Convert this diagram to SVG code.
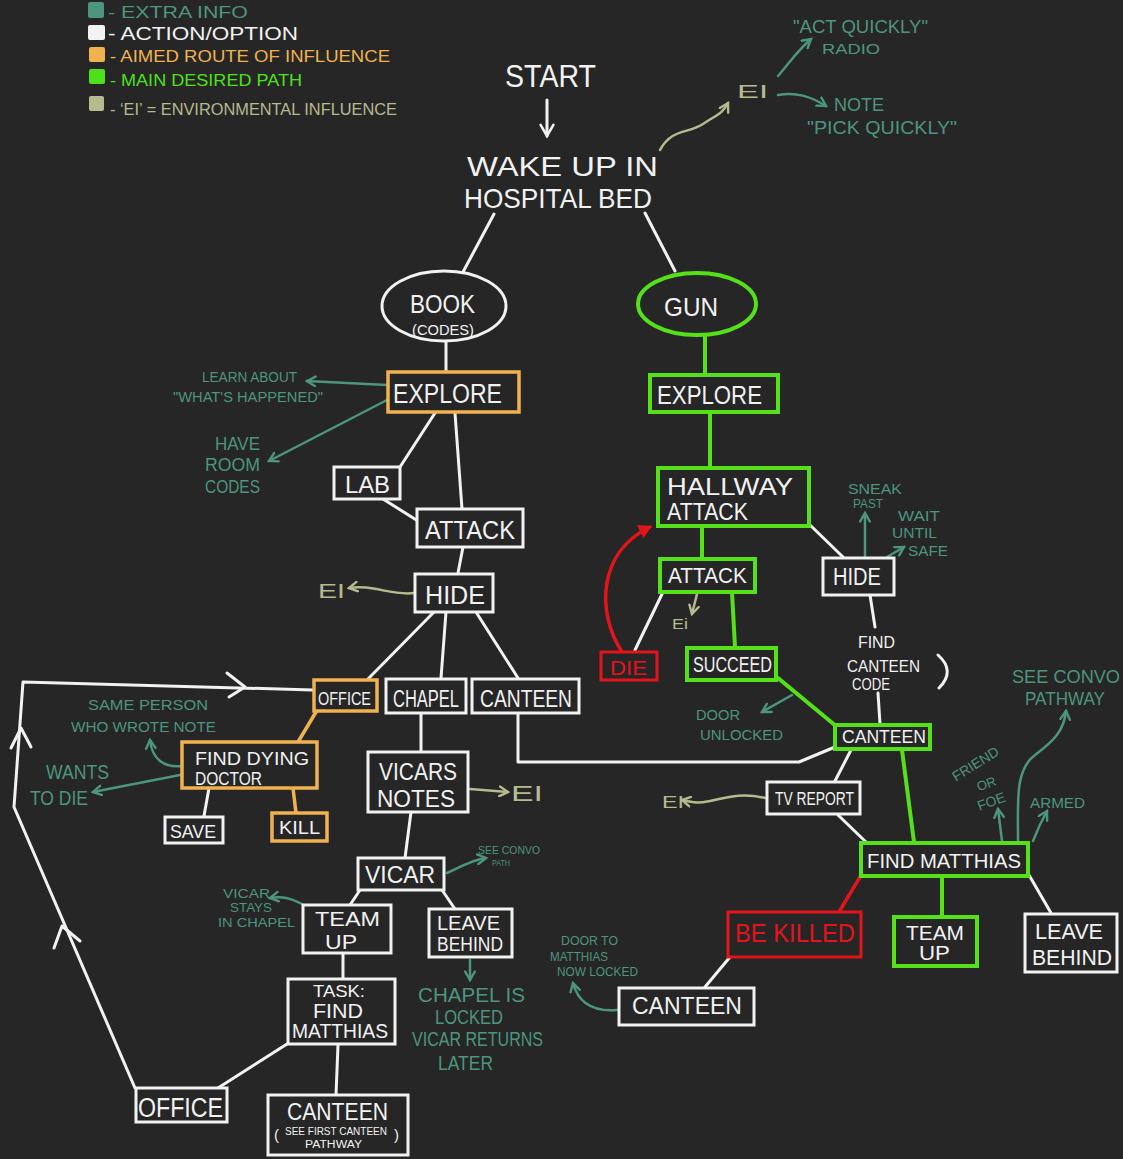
<svg xmlns="http://www.w3.org/2000/svg" width="1123" height="1159" viewBox="0 0 1123 1159">
<defs>
<style>
text{font-family:"Liberation Sans","DejaVu Sans",sans-serif}
.w{fill:#f2f2f2}
.tt{fill:#4d957f}
.kt{fill:#b6ba8e}
.ot{fill:#f0b24f}
.gt{fill:#4fe01c}
.rt{fill:#e3141b}
.bw{fill:#262626;stroke:#f2f2f2;stroke-width:3}
.bo{fill:#262626;stroke:#f0b24f;stroke-width:3.5}
.bg{fill:#262626;stroke:#56e01a;stroke-width:4}
.br{fill:#262626;stroke:#e3141b;stroke-width:3}
.lw{stroke:#f2f2f2;stroke-width:3;fill:none;stroke-linecap:round;stroke-linejoin:round}
.lg{stroke:#56e01a;stroke-width:4;fill:none;stroke-linecap:round}
.lo{stroke:#f0b24f;stroke-width:3.5;fill:none;stroke-linecap:round}
.lr{stroke:#e3141b;stroke-width:3.5;fill:none;stroke-linecap:round}
.at{stroke:#4d957f;stroke-width:2.5;fill:none;stroke-linecap:round;marker-end:url(#mt)}
.ak{stroke:#b6ba8e;stroke-width:2.5;fill:none;stroke-linecap:round;marker-end:url(#mk)}
</style>
<marker id="mt" viewBox="0 0 10 10" refX="8" refY="5" markerWidth="12" markerHeight="12" markerUnits="userSpaceOnUse" orient="auto"><path d="M1,1 L8,5 L1,9" fill="none" stroke="#4d957f" stroke-width="2" stroke-linecap="round"/></marker>
<marker id="mk" viewBox="0 0 10 10" refX="8" refY="5" markerWidth="12" markerHeight="12" markerUnits="userSpaceOnUse" orient="auto"><path d="M1,1 L8,5 L1,9" fill="none" stroke="#b6ba8e" stroke-width="2" stroke-linecap="round"/></marker>
<marker id="mr" viewBox="0 0 10 10" refX="8" refY="5" markerWidth="14" markerHeight="14" markerUnits="userSpaceOnUse" orient="auto"><path d="M1,1 L8,5 L1,9 Z" fill="#e3141b" stroke="#e3141b" stroke-width="1.5"/></marker>
<marker id="mw" viewBox="0 0 10 10" refX="8" refY="5" markerWidth="16" markerHeight="16" markerUnits="userSpaceOnUse" orient="auto"><path d="M1,1 L8,5 L1,9" fill="none" stroke="#f2f2f2" stroke-width="1.6" stroke-linecap="round"/></marker>
</defs>

<rect width="1123" height="1159" fill="#262626"/>

<!-- key -->
<g id="legend">
  <rect x="88" y="2" width="16" height="16" rx="2" fill="#4d957f"/>
  <text x="108" y="18" font-size="17" class="tt" textLength="140" lengthAdjust="spacingAndGlyphs">- EXTRA INFO</text>
  <rect x="88" y="25" width="17" height="15" rx="2" fill="#f2f2f2"/>
  <text x="108" y="40" font-size="18" class="w" textLength="190" lengthAdjust="spacingAndGlyphs">- ACTION/OPTION</text>
  <rect x="89" y="47" width="16" height="15" rx="2" fill="#f0b24f"/>
  <text x="110" y="62" font-size="17" class="ot" textLength="280" lengthAdjust="spacingAndGlyphs">- AIMED ROUTE OF INFLUENCE</text>
  <rect x="89" y="69" width="16" height="15" rx="2" fill="#4fe01c"/>
  <text x="110" y="86" font-size="16" class="gt" textLength="192" lengthAdjust="spacingAndGlyphs">- MAIN DESIRED PATH</text>
  <rect x="89" y="96" width="15" height="15" rx="2" fill="#b6ba8e"/>
  <text x="110" y="115" font-size="16" class="kt" textLength="287" lengthAdjust="spacingAndGlyphs">- ‘EI’ = ENVIRONMENTAL INFLUENCE</text>
</g>

<!-- links between nodes -->
<g id="connectors">
  <line class="lw" x1="547" y1="100" x2="547" y2="136" marker-end="url(#mw)"/>
  <line class="lw" x1="494" y1="214" x2="463" y2="272"/>
  <line class="lw" x1="645" y1="213" x2="675" y2="271"/>
  <!-- book branch -->
  <line class="lw" x1="446" y1="342" x2="446" y2="372"/>
  <line class="lw" x1="435" y1="413" x2="400" y2="467"/>
  <line class="lw" x1="455" y1="413" x2="462" y2="509"/>
  <line class="lw" x1="383" y1="499" x2="418" y2="521"/>
  <line class="lw" x1="463" y1="547" x2="458" y2="573"/>
  <line class="lw" x1="434" y1="612" x2="368" y2="679"/>
  <line class="lw" x1="446" y1="612" x2="441" y2="678"/>
  <line class="lw" x1="476" y1="612" x2="518" y2="678"/>
  <line class="lo" x1="316" y1="712" x2="298" y2="742"/>
  <line class="lw" x1="209" y1="788" x2="204" y2="816"/>
  <line class="lo" x1="293" y1="788" x2="296" y2="813"/>
  <line class="lw" x1="421" y1="713" x2="421" y2="752"/>
  <line class="lw" x1="411" y1="812" x2="405" y2="858"/>
  <line class="lw" x1="360" y1="890" x2="350" y2="905"/>
  <line class="lw" x1="442" y1="890" x2="455" y2="909"/>
  <line class="lw" x1="343" y1="953" x2="343" y2="979"/>
  <line class="lw" x1="287" y1="1044" x2="218" y2="1088"/>
  <line class="lw" x1="338" y1="1045" x2="336" y2="1095"/>
  <!-- return loop from the lower office back to the office -->
  <polyline class="lw" points="135,1088 14,807 23,682 313,690"/>
  <path class="lw" d="M227,673 L245,687 L229,697"/>
  <path class="lw" d="M11,748 L21,728 L31,747"/>
  <path class="lw" d="M54,948 L62,926 L80,941"/>
  <!-- canteen link across to the gun branch -->
  <polyline class="lw" points="518,713 518,762 799,762 835,747"/>
  <!-- gun branch -->
  <line class="lg" x1="705" y1="336" x2="705" y2="375"/>
  <line class="lg" x1="710" y1="412" x2="710" y2="468"/>
  <line class="lg" x1="702" y1="527" x2="702" y2="558"/>
  <line class="lw" x1="810" y1="525" x2="843" y2="557"/>
  <line class="lw" x1="663" y1="592" x2="635" y2="650"/>
  <line class="lg" x1="732" y1="592" x2="735" y2="647"/>
  <path class="lr" d="M622,652 C596,612 598,552 650,527" marker-end="url(#mr)"/>
  <line class="lg" x1="778" y1="678" x2="836" y2="726"/>
  <line class="lw" x1="870" y1="595" x2="875" y2="627"/>
  <line class="lw" x1="878" y1="693" x2="880" y2="724"/>
  <path class="lw" d="M938,655 Q956,671 939,688"/>
  <line class="lw" x1="851" y1="750" x2="835" y2="781"/>
  <line class="lg" x1="902" y1="750" x2="914" y2="842"/>
  <line class="lw" x1="838" y1="815" x2="866" y2="842"/>
  <line class="lr" x1="860" y1="877" x2="839" y2="912"/>
  <line class="lg" x1="942" y1="877" x2="942" y2="917"/>
  <line class="lw" x1="1029" y1="875" x2="1051" y2="913"/>
  <line class="lw" x1="730" y1="957" x2="705" y2="987"/>
</g>

<!-- notes and environmental influences -->
<g id="notes">
  <path class="ak" d="M660,150 C672,128 688,134 703,124 S722,114 728,103"/>
  <text x="737" y="98" font-size="19" class="kt" textLength="31" lengthAdjust="spacingAndGlyphs">EI</text>
  <path class="at" d="M778,76 C790,62 798,50 811,39"/>
  <text x="793" y="33" font-size="18" class="tt" textLength="135" lengthAdjust="spacingAndGlyphs">"ACT QUICKLY"</text>
  <text x="822" y="54" font-size="14" class="tt" textLength="58" lengthAdjust="spacingAndGlyphs">RADIO</text>
  <path class="at" d="M778,95 C796,92 810,96 826,106"/>
  <text x="834" y="111" font-size="19" class="tt" textLength="50" lengthAdjust="spacingAndGlyphs">NOTE</text>
  <text x="807" y="134" font-size="18" class="tt" textLength="150" lengthAdjust="spacingAndGlyphs">"PICK QUICKLY"</text>

  <path class="at" d="M387,385 L307,381"/>
  <text x="202" y="382" font-size="14" class="tt" textLength="95" lengthAdjust="spacingAndGlyphs">LEARN ABOUT</text>
  <text x="173" y="402" font-size="14" class="tt" textLength="150" lengthAdjust="spacingAndGlyphs">"WHAT'S HAPPENED"</text>
  <path class="at" d="M387,400 L269,461"/>
  <text x="215" y="450" font-size="19" class="tt" textLength="45" lengthAdjust="spacingAndGlyphs">HAVE</text>
  <text x="205" y="471" font-size="19" class="tt" textLength="55" lengthAdjust="spacingAndGlyphs">ROOM</text>
  <text x="205" y="493" font-size="19" class="tt" textLength="55" lengthAdjust="spacingAndGlyphs">CODES</text>

  <path class="ak" d="M414,593 C392,596 372,584 349,588"/>
  <text x="318" y="598" font-size="21" class="kt" textLength="27" lengthAdjust="spacingAndGlyphs">EI</text>

  <path class="at" d="M182,766 C165,768 152,760 150,740"/>
  <text x="88" y="710" font-size="15" class="tt" textLength="120" lengthAdjust="spacingAndGlyphs">SAME PERSON</text>
  <text x="71" y="732" font-size="15" class="tt" textLength="145" lengthAdjust="spacingAndGlyphs">WHO WROTE NOTE</text>
  <path class="at" d="M180,775 L93,792"/>
  <text x="46" y="779" font-size="20" class="tt" textLength="63" lengthAdjust="spacingAndGlyphs">WANTS</text>
  <text x="30" y="805" font-size="20" class="tt" textLength="58" lengthAdjust="spacingAndGlyphs">TO DIE</text>

  <path class="ak" d="M470,789 L508,792"/>
  <text x="511" y="801" font-size="22" class="kt" textLength="32" lengthAdjust="spacingAndGlyphs">EI</text>

  <path class="at" d="M447,873 C462,866 472,860 486,858"/>
  <text x="478" y="854" font-size="11" class="tt" textLength="62" lengthAdjust="spacingAndGlyphs">SEE CONVO</text>
  <text x="492" y="866" font-size="9" class="tt" textLength="18" lengthAdjust="spacingAndGlyphs">PATH</text>

  <path class="at" d="M302,904 C290,898 282,896 270,898"/>
  <text x="223" y="898" font-size="13" class="tt" textLength="47" lengthAdjust="spacingAndGlyphs">VICAR</text>
  <text x="230" y="912" font-size="12" class="tt" textLength="42" lengthAdjust="spacingAndGlyphs">STAYS</text>
  <text x="218" y="927" font-size="13" class="tt" textLength="77" lengthAdjust="spacingAndGlyphs">IN CHAPEL</text>

  <path class="at" d="M470,960 L470,980"/>
  <text x="418" y="1002" font-size="20" class="tt" textLength="107" lengthAdjust="spacingAndGlyphs">CHAPEL IS</text>
  <text x="435" y="1024" font-size="20" class="tt" textLength="68" lengthAdjust="spacingAndGlyphs">LOCKED</text>
  <text x="412" y="1046" font-size="20" class="tt" textLength="131" lengthAdjust="spacingAndGlyphs">VICAR RETURNS</text>
  <text x="438" y="1070" font-size="20" class="tt" textLength="55" lengthAdjust="spacingAndGlyphs">LATER</text>

  <path class="at" d="M865,557 L865,513"/>
  <text x="848" y="494" font-size="15" class="tt" textLength="54" lengthAdjust="spacingAndGlyphs">SNEAK</text>
  <text x="853" y="508" font-size="12" class="tt" textLength="30" lengthAdjust="spacingAndGlyphs">PAST</text>
  <path class="at" d="M887,557 L904,547"/>
  <text x="898" y="521" font-size="14" class="tt" textLength="42" lengthAdjust="spacingAndGlyphs">WAIT</text>
  <text x="892" y="538" font-size="14" class="tt" textLength="45" lengthAdjust="spacingAndGlyphs">UNTIL</text>
  <text x="908" y="556" font-size="15" class="tt" textLength="40" lengthAdjust="spacingAndGlyphs">SAFE</text>

  <path class="ak" d="M697,594 L692,614"/>
  <text x="672" y="629" font-size="14" class="kt" textLength="16" lengthAdjust="spacingAndGlyphs">Ei</text>

  <path class="at" d="M792,695 L762,712"/>
  <text x="696" y="720" font-size="15" class="tt" textLength="44" lengthAdjust="spacingAndGlyphs">DOOR</text>
  <text x="700" y="740" font-size="15" class="tt" textLength="83" lengthAdjust="spacingAndGlyphs">UNLOCKED</text>

  <path class="ak" d="M765,798 C740,792 725,798 710,801 S692,802 682,800"/>
  <text x="662" y="808" font-size="17" class="kt" textLength="22" lengthAdjust="spacingAndGlyphs">EI</text>

  <path class="at" d="M1002,841 L998,809"/>
  <text x="978" y="768" font-size="14" class="tt" text-anchor="middle" transform="rotate(-32 978 768)">FRIEND</text>
  <text x="988" y="788" font-size="13" class="tt" text-anchor="middle" transform="rotate(-20 988 788)">OR</text>
  <text x="993" y="806" font-size="14" class="tt" text-anchor="middle" transform="rotate(-20 993 806)">FOE</text>
  <path class="at" d="M1018,841 C1018,800 1015,770 1035,755 C1055,740 1064,730 1066,711"/>
  <text x="1012" y="683" font-size="19" class="tt" textLength="108" lengthAdjust="spacingAndGlyphs">SEE CONVO</text>
  <text x="1025" y="705" font-size="19" class="tt" textLength="80" lengthAdjust="spacingAndGlyphs">PATHWAY</text>
  <path class="at" d="M1033,841 C1038,828 1042,820 1047,811"/>
  <text x="1030" y="808" font-size="15" class="tt" textLength="55" lengthAdjust="spacingAndGlyphs">ARMED</text>

  <path class="at" d="M617,1010 C592,1012 578,1002 573,983"/>
  <text x="561" y="945" font-size="12" class="tt" textLength="57" lengthAdjust="spacingAndGlyphs">DOOR TO</text>
  <text x="550" y="961" font-size="12" class="tt" textLength="58" lengthAdjust="spacingAndGlyphs">MATTHIAS</text>
  <text x="557" y="976" font-size="12" class="tt" textLength="81" lengthAdjust="spacingAndGlyphs">NOW LOCKED</text>
</g>

<!-- nodes -->
<g id="start">
  <text x="505" y="87" font-size="31" class="w" textLength="91" lengthAdjust="spacingAndGlyphs">START</text>
</g>
<g id="wake-up">
  <text x="467" y="176" font-size="28.5" class="w" textLength="191" lengthAdjust="spacingAndGlyphs">WAKE UP IN</text>
  <text x="464" y="208" font-size="28.5" class="w" textLength="188" lengthAdjust="spacingAndGlyphs">HOSPITAL BED</text>
</g>
<g id="book">
  <ellipse cx="444" cy="306" rx="62" ry="35" class="bw"/>
  <text x="410" y="313" font-size="26" class="w" textLength="65" lengthAdjust="spacingAndGlyphs">BOOK</text>
  <text x="412" y="335" font-size="15" class="w" textLength="62" lengthAdjust="spacingAndGlyphs">(CODES)</text>
</g>
<g id="gun">
  <ellipse cx="697" cy="304" rx="59" ry="31" class="bg"/>
  <text x="664" y="316" font-size="26" class="w" textLength="54" lengthAdjust="spacingAndGlyphs">GUN</text>
</g>
<g id="explore-book">
  <rect x="388" y="372" width="131" height="40" class="bo"/>
  <text x="393" y="403" font-size="27" class="w" textLength="109" lengthAdjust="spacingAndGlyphs">EXPLORE</text>
</g>
<g id="lab">
  <rect x="334" y="467" width="66" height="32" class="bw"/>
  <text x="345" y="493" font-size="24" class="w" textLength="45" lengthAdjust="spacingAndGlyphs">LAB</text>
</g>
<g id="attack-book">
  <rect x="417" y="509" width="106" height="38" class="bw"/>
  <text x="425" y="539" font-size="26" class="w" textLength="90" lengthAdjust="spacingAndGlyphs">ATTACK</text>
</g>
<g id="hide-book">
  <rect x="415" y="574" width="78" height="38" class="bw"/>
  <text x="425" y="604" font-size="26" class="w" textLength="60" lengthAdjust="spacingAndGlyphs">HIDE</text>
</g>
<g id="office">
  <rect x="314" y="680" width="63" height="31" class="bo"/>
  <text x="318" y="705" font-size="19" class="w" textLength="53" lengthAdjust="spacingAndGlyphs">OFFICE</text>
</g>
<g id="chapel">
  <rect x="386" y="679" width="80" height="34" class="bw"/>
  <text x="393" y="707" font-size="23" class="w" textLength="66" lengthAdjust="spacingAndGlyphs">CHAPEL</text>
</g>
<g id="canteen-book">
  <rect x="472" y="679" width="107" height="34" class="bw"/>
  <text x="480" y="707" font-size="23" class="w" textLength="92" lengthAdjust="spacingAndGlyphs">CANTEEN</text>
</g>
<g id="find-dying-doctor">
  <rect x="182" y="742" width="135" height="46" class="bo"/>
  <text x="195" y="765" font-size="19" class="w" textLength="114" lengthAdjust="spacingAndGlyphs">FIND DYING</text>
  <text x="195" y="785" font-size="18" class="w" textLength="67" lengthAdjust="spacingAndGlyphs">DOCTOR</text>
</g>
<g id="save">
  <rect x="165" y="817" width="58" height="26" class="bw"/>
  <text x="170" y="838" font-size="19" class="w" textLength="46" lengthAdjust="spacingAndGlyphs">SAVE</text>
</g>
<g id="kill">
  <rect x="272" y="813" width="55" height="28" class="bo"/>
  <text x="279" y="834" font-size="19" class="w" textLength="41" lengthAdjust="spacingAndGlyphs">KILL</text>
</g>
<g id="vicars-notes">
  <rect x="368" y="752" width="100" height="60" class="bw"/>
  <text x="379" y="780" font-size="24" class="w" textLength="78" lengthAdjust="spacingAndGlyphs">VICARS</text>
  <text x="377" y="807" font-size="24" class="w" textLength="78" lengthAdjust="spacingAndGlyphs">NOTES</text>
</g>
<g id="vicar">
  <rect x="358" y="858" width="86" height="32" class="bw"/>
  <text x="365" y="883" font-size="24" class="w" textLength="70" lengthAdjust="spacingAndGlyphs">VICAR</text>
</g>
<g id="team-up-vicar">
  <rect x="303" y="905" width="88" height="48" class="bw"/>
  <text x="315" y="926" font-size="20" class="w" textLength="65" lengthAdjust="spacingAndGlyphs">TEAM</text>
  <text x="325" y="949" font-size="20" class="w" textLength="32" lengthAdjust="spacingAndGlyphs">UP</text>
</g>
<g id="leave-behind-vicar">
  <rect x="429" y="909" width="83" height="48" class="bw"/>
  <text x="437" y="930" font-size="20" class="w" textLength="63" lengthAdjust="spacingAndGlyphs">LEAVE</text>
  <text x="437" y="951" font-size="20" class="w" textLength="66" lengthAdjust="spacingAndGlyphs">BEHIND</text>
</g>
<g id="task-find-matthias">
  <rect x="288" y="979" width="107" height="65" class="bw"/>
  <text x="313" y="997" font-size="17" class="w" textLength="52" lengthAdjust="spacingAndGlyphs">TASK:</text>
  <text x="313" y="1018" font-size="20" class="w" textLength="50" lengthAdjust="spacingAndGlyphs">FIND</text>
  <text x="292" y="1038" font-size="20" class="w" textLength="96" lengthAdjust="spacingAndGlyphs">MATTHIAS</text>
</g>
<g id="office-lower">
  <rect x="136" y="1088" width="91" height="34" class="bw"/>
  <text x="138" y="1117" font-size="27" class="w" textLength="85" lengthAdjust="spacingAndGlyphs">OFFICE</text>
</g>
<g id="canteen-lower">
  <rect x="268" y="1095" width="140" height="60" class="bw"/>
  <text x="287" y="1120" font-size="24" class="w" textLength="101" lengthAdjust="spacingAndGlyphs">CANTEEN</text>
  <text x="274" y="1140" font-size="15" class="w">(</text>
  <text x="285" y="1135" font-size="10" class="w" textLength="102" lengthAdjust="spacingAndGlyphs">SEE FIRST CANTEEN</text>
  <text x="305" y="1148" font-size="10" class="w" textLength="57" lengthAdjust="spacingAndGlyphs">PATHWAY</text>
  <text x="394" y="1140" font-size="15" class="w">)</text>
</g>
<g id="explore-gun">
  <rect x="650" y="375" width="128" height="37" class="bg"/>
  <text x="657" y="404" font-size="26" class="w" textLength="105" lengthAdjust="spacingAndGlyphs">EXPLORE</text>
</g>
<g id="hallway-attack">
  <rect x="658" y="468" width="151" height="58" class="bg"/>
  <text x="667" y="495" font-size="24" class="w" textLength="126" lengthAdjust="spacingAndGlyphs">HALLWAY</text>
  <text x="667" y="520" font-size="24" class="w" textLength="81" lengthAdjust="spacingAndGlyphs">ATTACK</text>
</g>
<g id="attack-gun">
  <rect x="660" y="559" width="95" height="33" class="bg"/>
  <text x="668" y="583" font-size="22" class="w" textLength="79" lengthAdjust="spacingAndGlyphs">ATTACK</text>
</g>
<g id="hide-gun">
  <rect x="823" y="558" width="71" height="37" class="bw"/>
  <text x="833" y="585" font-size="23" class="w" textLength="48" lengthAdjust="spacingAndGlyphs">HIDE</text>
</g>
<g id="die">
  <rect x="601" y="652" width="56" height="28" class="br"/>
  <text x="610" y="675" font-size="20" class="rt" textLength="37" lengthAdjust="spacingAndGlyphs">DIE</text>
</g>
<g id="succeed">
  <rect x="687" y="648" width="89" height="32" class="bg"/>
  <text x="693" y="672" font-size="22" class="w" textLength="79" lengthAdjust="spacingAndGlyphs">SUCCEED</text>
</g>
<g id="find-canteen-code">
  <text x="858" y="648" font-size="17" class="w" textLength="37" lengthAdjust="spacingAndGlyphs">FIND</text>
  <text x="847" y="672" font-size="17" class="w" textLength="73" lengthAdjust="spacingAndGlyphs">CANTEEN</text>
  <text x="852" y="690" font-size="17" class="w" textLength="38" lengthAdjust="spacingAndGlyphs">CODE</text>
</g>
<g id="canteen-gun">
  <rect x="835" y="725" width="95" height="24" class="bg"/>
  <text x="842" y="743" font-size="18" class="w" textLength="84" lengthAdjust="spacingAndGlyphs">CANTEEN</text>
</g>
<g id="tv-report">
  <rect x="767" y="782" width="93" height="32" class="bw"/>
  <text x="775" y="805" font-size="19" class="w" textLength="79" lengthAdjust="spacingAndGlyphs">TV REPORT</text>
</g>
<g id="find-matthias">
  <rect x="861" y="843" width="167" height="33" class="bg"/>
  <text x="867" y="868" font-size="20" class="w" textLength="154" lengthAdjust="spacingAndGlyphs">FIND  MATTHIAS</text>
</g>
<g id="be-killed">
  <rect x="728" y="912" width="133" height="45" class="br"/>
  <text x="735" y="942" font-size="26" class="rt" textLength="120" lengthAdjust="spacingAndGlyphs">BE KILLED</text>
</g>
<g id="team-up-gun">
  <rect x="894" y="917" width="83" height="49" class="bg"/>
  <text x="906" y="940" font-size="20" class="w" textLength="58" lengthAdjust="spacingAndGlyphs">TEAM</text>
  <text x="919" y="960" font-size="20" class="w" textLength="31" lengthAdjust="spacingAndGlyphs">UP</text>
</g>
<g id="leave-behind-gun">
  <rect x="1025" y="914" width="92" height="58" class="bw"/>
  <text x="1035" y="939" font-size="22" class="w" textLength="68" lengthAdjust="spacingAndGlyphs">LEAVE</text>
  <text x="1032" y="965" font-size="22" class="w" textLength="80" lengthAdjust="spacingAndGlyphs">BEHIND</text>
</g>
<g id="canteen-after-killed">
  <rect x="619" y="988" width="135" height="37" class="bw"/>
  <text x="632" y="1014" font-size="24" class="w" textLength="110" lengthAdjust="spacingAndGlyphs">CANTEEN</text>
</g>
</svg>
